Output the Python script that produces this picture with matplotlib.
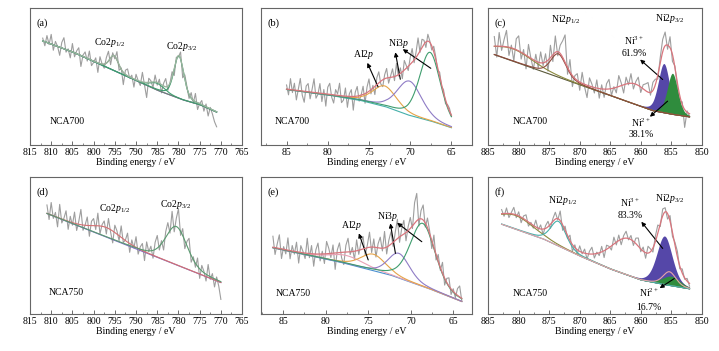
import numpy as np
import matplotlib
matplotlib.use('Agg')
import matplotlib.pyplot as plt
from matplotlib.ticker import MultipleLocator

plt.rcParams['font.family'] = ['Liberation Serif', 'DejaVu Serif']
plt.rcParams['mathtext.fontset'] = 'custom'
plt.rcParams['mathtext.rm'] = 'Liberation Serif'
plt.rcParams['mathtext.it'] = 'Liberation Serif:italic'

# intensity is given in % of the panel height (no y scale on the original)

#### (a) NCA700 Co2p
range_a = [812, 771]
bg_a_e = [812, 805, 800, 795, 790, 785, 782, 779, 775, 771]
bg_a_y = [76, 68, 61, 54, 47, 40, 36.5, 33, 29.5, 24]
pk_a_center = [795.2, 779.9, 785.0]
pk_a_height = [11, 31, 5]
pk_a_fwhm = [2.5, 2.8, 4.0]
noise_a = [2, -3, 5, -1, 7, -4, 3, 0, -6, 4, 8, -2, 1, -5, 6, -3, 2, 5, -8, 1,
           4, -2, 6, -4, -1, 3, -7, 5, 0, -3, 4, 7, -5, 2, -2, 6, -4, 1, -9, 3,
           5, -1, 2, -6, 4, 0, -3, 7, -2, -11, 3, 1, -4, 5, -2, 3, -6, 2, 6, -3,
           0, 4, -5, 2, -1, 5, -7, 3, 1, -3, 4, -2, 6, -5, 0, 3, -4, 2, -6, 1,
           -3, -8, -11]

#### (b) NCA700 Al2p / Ni3p
range_b = [85, 65]
bg_b_e = [85, 80, 76, 73, 70.3, 67.5, 65]
bg_b_y = [40.5, 36.5, 32.5, 28, 22, 17.5, 12.6]
pk_b_center = [73.1, 70.1, 67.6]
pk_b_height = [15, 25, 50]
pk_b_fwhm = [3.5, 3.5, 3.0]
noise_b = [3, -4, 8, -2, 5, -7, 1, 9, -3, -8, 4, 6, -5, 2, 10, -4, -1, 7, -6, 3,
           -9, 5, 8, -2, -6, 4, 1, 9, -5, -3, 6, -8, 2, 5, -10, 3, 7, -4, 0, 6,
           -7, 4, 9, -3, 2, -6, 5, 8, -2, -5, 3, 7, -4, 1, 6, -3, 9, -1, 4, -5,
           7, 2, -3, 5, 10, -2, 4, 12, -1, 6, 3, -4, 5, 1, -3, 4, 2, -2, 3, -1,
           2, -3, 1, 2, -1]

#### (c) NCA700 Ni2p
range_c = [884, 852]
bg_c_e = [884, 876, 870, 864, 858, 855, 852]
bg_c_y = [66, 53.5, 44, 34.5, 25, 22.5, 20.5]
pk_c_center = [881.0, 873.5, 861.0, 856.2, 854.8]
pk_c_height = [9, 17, 14, 36, 30]
pk_c_fwhm = [8.0, 3.0, 6.0, 2.2, 2.0]
noise_c = [7, -8, 10, -3, 5, 12, -6, 2, -9, 8,
           11, -5, 3, -10, 9, 0, -7, 5, -4, 8,
           -2, 6, -8, 9, -5, 12, -3, 6, 12, 20,
           -5, 9, -8, 2, 5, -6, 8, -2, -9, 6,
           2, -4, 6, -7, 3, -6, 4, 7, -5, 1,
           -4, 8, 2, -6, 5, -1, 7, -4, 2, 6,
           -4, 3, 5, 7, -2, 6, 4, -3, 4, 9,
           10, -3, 8, -5, 1, -3, -4, 2, -13, 1, -2]

#### (d) NCA750 Co2p
range_d = [811, 770]
bg_d_e = [811, 770]
bg_d_y = [73.5, 23.1]
pk_d_center = [797.0, 780.5]
pk_d_height = [7, 28]
pk_d_fwhm = [8.0, 6.0]
noise_d = [6, -4, 9, -2, 3, -7, 10, -3, 1, 7,
           -6, 4, -2, 8, -5, 2, 11, -4, 0, 6,
           -8, 3, 5, -3, 9, -6, 1, 4, -5, 7,
           -2, -9, 5, 2, -4, 8, -3, 0, 6, -7,
           3, -2, 7, -5, 1, 4, -8, 6, -1, 3,
           -6, 5, 9, -3, 2, -7, 4, 8, -2, 12,
           -4, 6, 14, -3, 5, -6, 3, 9, -5, 2,
           -3, 6, -7, 4, 1, -5, 8, -2, 3, -6,
           2, -4, -13]

#### (e) NCA750 Al2p / Ni3p
range_e = [86.2, 64]
bg_e_e = [86.2, 78.3, 72.4, 68, 64]
bg_e_y = [48.5, 38, 28.6, 19, 9.2]
pk_e_center = [77.5, 74.4, 71.4, 68.6]
pk_e_height = [6, 12, 18, 46]
pk_e_fwhm = [5.0, 3.5, 3.0, 3.5]
noise_e = [8, -5, 3, 10, -7, 2, -3, 9, -6, 4,
           -2, 7, -8, 5, 1, -4, 11, -3, 6, -9,
           3, 8, -5, 2, -7, 9, 4, -3, 6, -12,
           2, 7, -4, -9, 5, 10, -2, 3, -6, 8,
           -3, 5, 9, -5, 2, 11, -4, 6, -7, 3,
           8, -2, 12, -5, 4, 9, -3, 6, 14, -4,
           5, 10, -6, 3, 8, -2, 15, 20, -5, 6,
           11, -3, 7, 2, -6, 9, -4, 5, -2, 8,
           -5, 3, 6, -4, 2, -3, 5, 8, -2]

#### (f) NCA750 Ni2p
range_f = [882.8, 852]
bg_f_e = [883, 876, 870, 865, 860, 856, 852]
bg_f_y = [66, 55, 42.5, 33, 25, 21.5, 18.5]
pk_f_center = [880.5, 873.5, 862.0, 855.3, 856.1, 855.0]
pk_f_height = [10, 18, 26, 10, 35.5, 7]
pk_f_fwhm = [7.0, 3.0, 7.0, 2.5, 3.0, 3.5]
noise_f = [3, -2, 4, -3, 1, 5, -2, 3, -4, 2,
           4, -3, 1, -2, 5, -1, 3, -4, 2, 4,
           -3, 2, 5, -1, 7, -4, 3, -2, 4, -5,
           2, -3, 4, -1, 3, -4, 2, 5, -3, 1,
           -2, 4, -5, 3, 1, -3, 5, -2, 4, -4,
           2, 5, -1, 3, -3, 4, 6, -2, 3, -4,
           5, 2, -3, 4, 6, -2, 5, 3, -4, 4,
           -3, 2, 4, -2, 3, -1, 2, -2]


def pv(e, c, h, w):
    # pseudo-voigt, GL 30
    g = np.exp(-4*np.log(2)*((e-c)/w)**2)
    l = 1/(1+4*((e-c)/w)**2)
    return h*(0.7*g + 0.3*l)


def panel(ax, rng, noise, bg_e, bg_y, cen, hei, fw, colors, fills=None, env_color='#d9757d', bg_color='#7b6cc4'):
    e = np.linspace(rng[0], rng[1], len(noise))
    ef = np.linspace(rng[0], rng[1], 500)
    bg = np.interp(e, bg_e[::-1], bg_y[::-1])
    bgf = np.interp(ef, bg_e[::-1], bg_y[::-1])
    env = bg + sum(pv(e, c, h, w) for c, h, w in zip(cen, hei, fw))
    envf = bgf + sum(pv(ef, c, h, w) for c, h, w in zip(cen, hei, fw))
    raw = env + np.array(noise)

    ax.plot(e, raw, color='#9e9e9e', lw=0.8, zorder=1)
    if fills:
        for i, fc in fills:
            ax.fill_between(ef, bgf, bgf + pv(ef, cen[i], hei[i], fw[i]), color=fc, lw=0, zorder=2)
    ax.plot(ef, bgf, color=bg_color, lw=0.8, zorder=3)
    for c, h, w, col in zip(cen, hei, fw, colors):
        if col is None:
            continue
        ax.plot(ef, bgf + pv(ef, c, h, w), color=col, lw=0.8, zorder=3)
    if env_color:
        ax.plot(ef, envf, color=env_color, lw=0.9, zorder=4)


def style(ax, xlim, label, name):
    ax.set_xlim(xlim)
    ax.set_ylim(0, 100)
    ax.set_yticks([])
    ax.xaxis.set_major_locator(MultipleLocator(5))
    ax.xaxis.set_minor_locator(MultipleLocator(2.5))
    ax.tick_params(axis='x', which='major', direction='in', length=3, width=0.6, labelsize=7, pad=2, color='#555555')
    ax.tick_params(axis='x', which='minor', direction='in', length=1.8, width=0.5, color='#555555')
    for s in ax.spines.values():
        s.set_color('#666666')
        s.set_linewidth(0.8)
    ax.set_xlabel('Binding energy / eV', fontsize=7, labelpad=1)
    ax.text(0.03, 0.89, label, transform=ax.transAxes, fontsize=7.5, va='center')
    ax.text(name[0], name[1], name[2], transform=ax.transAxes, fontsize=7, va='center')


def arrow(ax, tail, head):
    ax.annotate('', xy=head, xytext=tail,
                arrowprops=dict(arrowstyle='-|>', color='black', lw=0.8, mutation_scale=6, shrinkA=0, shrinkB=0))


fig = plt.figure(figsize=(7.19, 3.51), dpi=100)
ax_a = fig.add_axes([0.0417, 0.587, 0.295, 0.390])
ax_b = fig.add_axes([0.363, 0.587, 0.2935, 0.390])
ax_c = fig.add_axes([0.679, 0.587, 0.297, 0.390])
ax_d = fig.add_axes([0.0417, 0.105, 0.295, 0.390])
ax_e = fig.add_axes([0.363, 0.105, 0.2935, 0.390])
ax_f = fig.add_axes([0.679, 0.105, 0.297, 0.390])

green = '#3f9d6e'
orange = '#e5a449'
purple = '#8f7cc6'
teal = '#45b0aa'
brown = '#8e4a3c'
olive = '#8c8a3e'
fill3 = '#5547a8'
fill2 = '#2f8c3d'

# (a)
panel(ax_a, range_a, noise_a, bg_a_e, bg_a_y, pk_a_center, pk_a_height, pk_a_fwhm,
      ['#6f806f', green, green], env_color='#9cb59f')
style(ax_a, (815, 765), '(a)', (0.094, 0.17, 'NCA700'))
ax_a.text(796.1, 74.5, r'Co2$\mathit{p}_{1/2}$', ha='center', va='center', fontsize=7)
ax_a.text(779.2, 72, r'Co2$\mathit{p}_{3/2}$', ha='center', va='center', fontsize=7)

# (b)
panel(ax_b, range_b, noise_b, bg_b_e, bg_b_y, pk_b_center, pk_b_height, pk_b_fwhm,
      [orange, purple, green], bg_color=teal)
style(ax_b, (88.1, 62.5), '(b)', (0.066, 0.175, 'NCA700'))
ax_b.text(75.6, 66, r'Al2$\mathit{p}$', ha='center', va='center', fontsize=7)
ax_b.text(71.4, 74, r'Ni3$\mathit{p}$', ha='center', va='center', fontsize=7)
arrow(ax_b, (73.9, 42.5), (75.2, 60))
arrow(ax_b, (71.2, 48), (71.8, 67.7))
arrow(ax_b, (67.5, 56), (70.9, 70))

# (c)
panel(ax_c, range_c, noise_c, bg_c_e, bg_c_y, pk_c_center, pk_c_height, pk_c_fwhm,
      [olive, brown, None, None, None], fills=[(3, fill3), (4, fill2)], bg_color='#5c5a3a')
style(ax_c, (885, 850), '(c)', (0.117, 0.175, 'NCA700'))
ax_c.text(872.2, 91.5, r'Ni2$\mathit{p}_{1/2}$', ha='center', va='center', fontsize=7)
ax_c.text(855.2, 92.7, r'Ni2$\mathit{p}_{3/2}$', ha='center', va='center', fontsize=7)
ax_c.text(861.1, 76, r'Ni$^{3+}$', ha='center', va='center', fontsize=7)
ax_c.text(861.1, 67, '61.9%', ha='center', va='center', fontsize=7)
ax_c.text(860.0, 16.5, r'Ni$^{2+}$', ha='center', va='center', fontsize=7)
ax_c.text(860.0, 7.8, '38.1%', ha='center', va='center', fontsize=7)
arrow(ax_c, (856.4, 47.8), (860.1, 62.4))
arrow(ax_c, (855.6, 32), (858.5, 20.6))

# (d)
panel(ax_d, range_d, noise_d, bg_d_e, bg_d_y, pk_d_center, pk_d_height, pk_d_fwhm,
      ['#d46f72', '#5a9a70'], env_color=None)
style(ax_d, (815, 765), '(d)', (0.09, 0.16, 'NCA750'))
ax_d.text(795.1, 77, r'Co2$\mathit{p}_{1/2}$', ha='center', va='center', fontsize=7)
ax_d.text(780.7, 80, r'Co2$\mathit{p}_{3/2}$', ha='center', va='center', fontsize=7)

# (e)
panel(ax_e, range_e, noise_e, bg_e_e, bg_e_y, pk_e_center, pk_e_height, pk_e_fwhm,
      ['#e8a2b5', orange, purple, green], bg_color='#4a8fd0')
style(ax_e, (87.6, 62.8), '(e)', (0.07, 0.153, 'NCA750'))
ax_e.text(77.0, 65, r'Al2$\mathit{p}$', ha='center', va='center', fontsize=7)
ax_e.text(72.7, 71.5, r'Ni3$\mathit{p}$', ha='center', va='center', fontsize=7)
arrow(ax_e, (75.0, 39.6), (76.1, 59))
arrow(ax_e, (71.8, 44.4), (72.4, 66.3))
arrow(ax_e, (68.7, 52.9), (71.6, 66.7))

# (f)
panel(ax_f, range_f, noise_f, bg_f_e, bg_f_y, pk_f_center, pk_f_height, pk_f_fwhm,
      [olive, teal, None, '#e6a3a8', None, None], fills=[(4, fill3), (5, fill2)], bg_color='#3f9fb0')
style(ax_f, (885, 850), '(f)', (0.117, 0.153, 'NCA750'))
ax_f.text(872.8, 83, r'Ni2$\mathit{p}_{1/2}$', ha='center', va='center', fontsize=7)
ax_f.text(855.2, 84.5, r'Ni2$\mathit{p}_{3/2}$', ha='center', va='center', fontsize=7)
ax_f.text(861.7, 81, r'Ni$^{3+}$', ha='center', va='center', fontsize=7)
ax_f.text(861.7, 72.3, '83.3%', ha='center', va='center', fontsize=7)
ax_f.text(858.7, 15.5, r'Ni$^{2+}$', ha='center', va='center', fontsize=7)
ax_f.text(858.7, 4.6, '16.7%', ha='center', va='center', fontsize=7)
arrow(ax_f, (856.4, 48), (859.9, 67.5))
arrow(ax_f, (854.5, 26), (856.9, 19))

fig.savefig('out.png', dpi=100)
